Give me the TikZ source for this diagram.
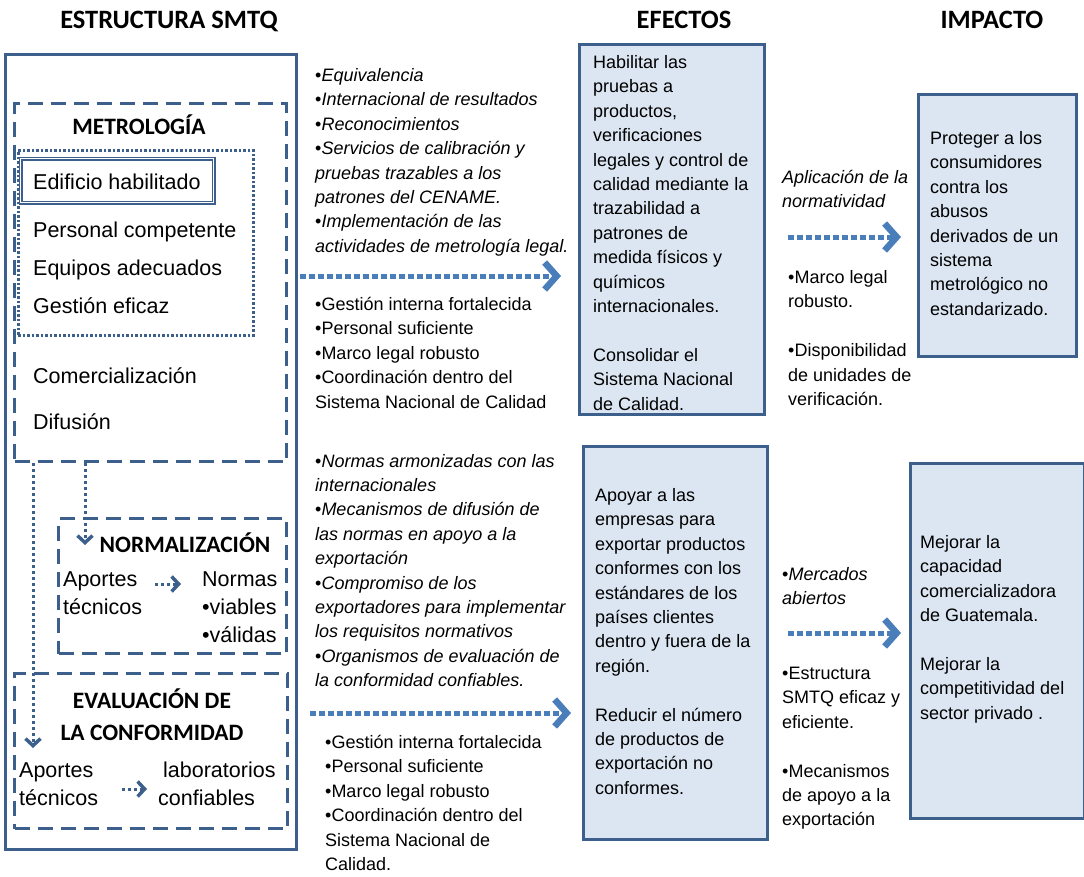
\documentclass[tikz,border=0pt]{standalone}
\usepackage{fontspec}
\setmainfont{Liberation Sans}
\newfontfamily\hdrfont{Carlito}
\usetikzlibrary{arrows.meta}
\definecolor{boxblue}{RGB}{60,95,140}
\definecolor{fillblue}{RGB}{220,230,242}
\definecolor{arrowblue}{RGB}{74,126,187}
\newcommand\blk[1]{\begin{tabular}[t]{@{}l@{}}#1\end{tabular}}
\newcommand\blkc[1]{\begin{tabular}[t]{@{}c@{}}#1\end{tabular}}
\begin{document}
\begin{tikzpicture}[x=1pt,y=-1pt,
  hdr/.style={font=\hdrfont\bfseries\fontsize{26.5}{30}\selectfont, anchor=base, inner sep=0pt},
  ttl/.style={font=\hdrfont\bfseries\fontsize{23.5}{32}\selectfont, anchor=base, inner sep=0pt},
  big/.style={font=\fontsize{21.5}{28}\selectfont, anchor=base west, inner sep=0pt},
  txt/.style={font=\fontsize{18}{24.4}\selectfont, anchor=base west, inner sep=0pt},
  solidbox/.style={draw=boxblue, line width=3pt, anchor=north west, inner sep=0pt},
  dashbox/.style={draw=boxblue, line width=3pt, dash pattern=on 15pt off 8pt, anchor=north west, inner sep=0pt},
  dotbox/.style={draw=boxblue, line width=2.8pt, dash pattern=on 2.5pt off 2pt, anchor=north west, inner sep=0pt},
  dblbox/.style={draw=boxblue, double=white, double distance=1.5pt, line width=1.3pt, anchor=north west, inner sep=0pt},
  effbox/.style={draw=boxblue, fill=fillblue, line width=3pt, anchor=north west, inner sep=0pt},
  bigarrow/.style={draw=arrowblue, line width=5pt, dash pattern=on 6pt off 3pt, -{Straight Barb[length=12pt,width=27pt,line width=6.5pt]}},
  smallarrow/.style={draw=boxblue, line width=3pt, dash pattern=on 3pt off 3pt, -{Straight Barb[length=7pt,width=15pt,line width=3.5pt]}}
]
\useasboundingbox (0,0) rectangle (1084,876);

% headers
\node[hdr] (h1) at (169,28.5) {ESTRUCTURA SMTQ};
\node[hdr] (h2) at (684,28.5) {EFECTOS};
\node[hdr] (h3) at (992,28.5) {IMPACTO};

% left structure
\node[solidbox, minimum width=291pt, minimum height=795pt] (outer) at (4,53) {};
\node[dashbox, minimum width=272pt, minimum height=358pt] (met) at (13,102) {};
\node[dotbox, minimum width=235pt, minimum height=185pt] (dotb) at (17,149) {};
\node[dblbox, minimum width=193pt, minimum height=44pt] (edb) at (20,158) {};
\node[dashbox, minimum width=228pt, minimum height=135pt] (norm) at (57,517) {};
\node[dashbox, minimum width=273pt, minimum height=155pt] (eval) at (13,672) {};

\node[ttl] (metT) at (139,134.5) {METROLOGÍA};
\node[big] (m1) at (33,189) {Edificio habilitado};
\node[big] (m2) at (33,237) {Personal competente};
\node[big] (m3) at (33,275) {Equipos adecuados};
\node[big] (m4) at (33,313.5) {Gestión eficaz};
\node[big] (m5) at (33,383) {Comercialización};
\node[big] (m6) at (33,429.5) {Difusión};

\node[ttl] (normT) at (185,552.5) {NORMALIZACIÓN};
\node[big] (nap) at (63,586) {\blk{Aportes\\técnicos}};
\node[big] (nnor) at (202,586) {\blk{Normas\\•viables\\•válidas}};

\node[ttl] (evalT) at (152,708) {\blkc{EVALUACIÓN DE\\LA CONFORMIDAD}};
\node[big] (eap) at (19,777) {\blk{Aportes\\técnicos}};
\node[big] (elab) at (163,777) {laboratorios};
\node[big] (econ) at (158,805) {confiables};

\coordinate (v1) at (85,545);
\coordinate (v2) at (33,748);
\draw[smallarrow] (v1 |- met.south) -- (v1);
\draw[smallarrow] (v2 |- met.south) -- (v2);
\coordinate (n1) at (155,584);
\coordinate (n2) at (181,584);
\draw[smallarrow] (n1) -- (n2);
\coordinate (e1) at (122,789);
\coordinate (e2) at (147,789);
\draw[smallarrow] (e1) -- (e2);

% middle column
\node[txt] (mt1) at (315,81.5) {\blk{•\textit{Equivalencia}\\•\textit{Internacional de resultados}\\•\textit{Reconocimientos}\\•\textit{Servicios de calibración y}\\\textit{pruebas trazables a los}\\\textit{patrones del CENAME.}\\•\textit{Implementación de las}\\\textit{actividades de metrología legal.}}};
\node[txt] (mt2) at (315,310.5) {\blk{•Gestión interna fortalecida\\•Personal suficiente\\•Marco legal robusto\\•Coordinación dentro del\\Sistema Nacional de Calidad}};
\node[txt] (mb1) at (315,467) {\blk{•\textit{Normas armonizadas con las}\\\textit{internacionales}\\•\textit{Mecanismos de difusión de}\\\textit{las normas en apoyo a la}\\\textit{exportación}\\•\textit{Compromiso de los}\\\textit{exportadores para implementar}\\\textit{los requisitos normativos}\\•\textit{Organismos de evaluación de}\\\textit{la conformidad confiables.}}};
\node[txt] (mb2) at (325,748.5) {\blk{•Gestión interna fortalecida\\•Personal suficiente\\•Marco legal robusto\\•Coordinación dentro del\\Sistema Nacional de\\Calidad.}};

% effects
\node[effbox, minimum width=185pt, minimum height=370pt] (eff1) at (578,43) {};
\node[effbox, minimum width=184pt, minimum height=393pt] (eff2) at (582,445) {};
\node[txt] (eff1t) at (593,68.5) {\blk{Habilitar las\\pruebas a\\productos,\\verificaciones\\legales y control de\\calidad mediante la\\trazabilidad a\\patrones de\\medida físicos y\\químicos\\internacionales.\\ \\Consolidar el\\Sistema Nacional\\de Calidad.}};
\node[txt] (eff2t) at (595,501.5) {\blk{Apoyar a las\\empresas para\\exportar productos\\conformes con los\\estándares de los\\países clientes\\dentro y fuera de la\\región.\\ \\Reducir el número\\de productos de\\exportación no\\conformes.}};

% between effects and impact
\node[txt] (apl) at (782,183.5) {\blk{\textit{Aplicación de la}\\\textit{normatividad}}};
\node[txt] (mk) at (788,283.5) {\blk{•Marco legal\\robusto.\\ \\•Disponibilidad\\de unidades de\\verificación.}};
\node[txt] (merc) at (782,580) {\blk{•\textit{Mercados}\\\textit{abiertos}}};
\node[txt] (est) at (782,679.5) {\blk{•Estructura\\SMTQ eficaz y\\eficiente.\\ \\•Mecanismos\\de apoyo a la\\exportación}};

% impact
\node[effbox, minimum width=158pt, minimum height=262pt] (imp1) at (917,93) {};
\node[effbox, minimum width=174pt, minimum height=355pt] (imp2) at (909,462) {};
\node[txt] (imp1t) at (930,144.5) {\blk{Proteger a los\\consumidores\\contra los\\abusos\\derivados de un\\sistema\\metrológico no\\estandarizado.}};
\node[txt] (imp2t) at (920,548.5) {\blk{Mejorar la\\capacidad\\comercializadora\\de Guatemala.\\ \\Mejorar la\\competitividad del\\sector privado .}};

% big arrows
\coordinate (a1s) at (300,276);
\coordinate (a2s) at (310,713);
\coordinate (a3s) at (788,237);
\coordinate (a4s) at (788,633);
\draw[bigarrow, shorten >=17pt] (a1s) -- (a1s -| eff1.west);
\draw[bigarrow, shorten >=11pt] (a2s) -- (a2s -| eff2.west);
\draw[bigarrow, shorten >=16pt] (a3s) -- (a3s -| imp1.west);
\draw[bigarrow, shorten >=8pt] (a4s) -- (a4s -| imp2.west);
\end{tikzpicture}
\end{document}
